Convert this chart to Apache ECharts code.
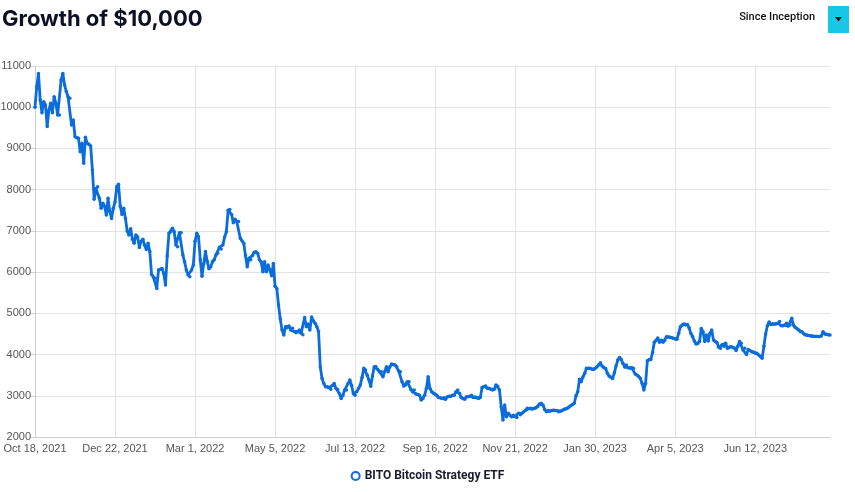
<!DOCTYPE html>
<html>
<head>
<meta charset="utf-8">
<script src="https://cdn.jsdelivr.net/npm/echarts@6/dist/echarts.min.js"></script>
<style>
  html, body { margin: 0; padding: 0; background: #fff; }
  #chart { width: 855px; height: 492px; }
</style>
</head>
<body>
<div id="chart"></div>
<script>
// x axis labels, one every 46 trading days
var tickLabels = ['Oct 18, 2021', 'Dec 22, 2021', 'Mar 1, 2022', 'May 5, 2022', 'Jul 13, 2022',
  'Sep 16, 2022', 'Nov 21, 2022', 'Jan 30, 2023', 'Apr 5, 2023', 'Jun 12, 2023'];
var labelStep = 46;

// growth of $10,000, daily (one row per label period)
var seg0 = [10000, 10500, 10820, 10175, 9867, 10135, 10055, 9530, 9930, 10095, 9867, 10255, 10095, 9810, 9810, 10660,
  10820, 10540, 10380, 10255, 10215, 9570, 9690, 9285, 9260, 9245, 8920, 9125, 8640, 9270, 9125, 9100, 9060, 8475,
  7770, 8030, 8070, 7790, 7550, 7670, 7600, 7385, 7790, 7465, 7300, 7550];
var seg1 = [7700, 8070, 8130, 7600, 7400, 7550, 7300, 7000, 6900, 7050, 6800, 6700, 6900, 6850, 6600, 6750, 6800,
  6650, 6550, 6700, 6500, 5950, 5880, 5850, 5605, 6050, 6070, 6090, 5970, 5685, 6390, 6940, 6980, 7065, 6980, 6660,
  6615, 6955, 6955, 6415, 6250, 6050, 5930, 5890, 6050, 6170];
var seg2 = [6750, 6940, 6860, 6300, 5900, 6200, 6500, 6260, 6080, 6130, 6250, 6300, 6415, 6455, 6600, 6560, 6660,
  6850, 6980, 7500, 7520, 7400, 7200, 7280, 7225, 7225, 6820, 6760, 6700, 6400, 6130, 6335, 6300, 6400, 6480, 6495,
  6460, 6300, 6250, 6010, 6250, 6010, 6170, 6050, 5910, 6210];
var seg3 = [5660, 5605, 5200, 4860, 4600, 4475, 4675, 4650, 4690, 4595, 4640, 4560, 4530, 4560, 4595, 4520, 4480,
  4900, 4675, 4740, 4595, 4910, 4820, 4760, 4675, 4560, 3700, 3420, 3300, 3220, 3220, 3200, 3160, 3250, 3300, 3180,
  3150, 3050, 2935, 3015, 3140, 3140, 3300, 3380, 3250, 3050];
var seg4 = [3015, 3100, 3180, 3260, 3445, 3665, 3625, 3500, 3380, 3230, 3480, 3705, 3705, 3640, 3585, 3585, 3460,
  3585, 3705, 3585, 3705, 3770, 3760, 3745, 3705, 3610, 3585, 3340, 3235, 3260, 3340, 3340, 3160, 3100, 3140, 3045,
  3030, 3015, 2895, 2935, 3015, 3180, 3460, 3180, 3100, 3060];
var seg5 = [3040, 3010, 2960, 2950, 2935, 2950, 2915, 2975, 2990, 2990, 3015, 3015, 3100, 3140, 3060, 2960, 2935,
  2915, 2975, 2975, 2990, 3015, 2960, 2970, 2950, 2935, 2960, 3200, 3220, 3235, 3180, 3180, 3160, 3140, 3160, 3260,
  3230, 3140, 2730, 2410, 2775, 2490, 2575, 2530, 2490, 2530];
var seg6 = [2500, 2475, 2575, 2540, 2575, 2615, 2650, 2695, 2690, 2695, 2680, 2700, 2710, 2740, 2800, 2820, 2775,
  2670, 2615, 2640, 2630, 2640, 2650, 2640, 2640, 2615, 2625, 2640, 2670, 2680, 2700, 2730, 2760, 2790, 2820, 3000,
  3100, 3400, 3340, 3460, 3545, 3665, 3665, 3665, 3650, 3640];
var seg7 = [3660, 3700, 3745, 3800, 3720, 3680, 3660, 3545, 3480, 3450, 3420, 3550, 3720, 3865, 3930, 3880, 3780,
  3700, 3745, 3680, 3665, 3680, 3665, 3530, 3505, 3470, 3420, 3300, 3140, 3300, 3850, 3880, 3880, 4050, 4300, 4340,
  4400, 4300, 4350, 4300, 4340, 4430, 4425, 4420, 4410, 4395];
var seg8 = [4380, 4370, 4515, 4675, 4720, 4740, 4715, 4730, 4650, 4515, 4435, 4330, 4255, 4270, 4315, 4635, 4555,
  4315, 4475, 4330, 4515, 4595, 4355, 4315, 4290, 4180, 4150, 4235, 4200, 4275, 4150, 4180, 4190, 4180, 4160, 4100,
  4200, 4315, 4275, 4110, 4150, 4000, 4120, 4100, 4070, 4060];
var seg9 = [4040, 4030, 3990, 3960, 3910, 4200, 4500, 4700, 4790, 4730, 4750, 4740, 4740, 4760, 4800, 4700, 4700,
  4715, 4760, 4690, 4720, 4880, 4715, 4660, 4630, 4595, 4555, 4550, 4500, 4475, 4470, 4460, 4450, 4450, 4440, 4445,
  4435, 4440, 4450, 4555, 4500, 4490, 4480, 4475];

var values = [].concat(seg0, seg1, seg2, seg3, seg4, seg5, seg6, seg7, seg8, seg9);
var categories = values.map(function (v, i) {
  return i % labelStep === 0 ? tickLabels[i / labelStep] : '';
});

var blue = '#0a6ddb';
var chart = echarts.init(document.getElementById('chart'), null, { renderer: 'canvas' });
chart.setOption({
  animation: false,
  backgroundColor: '#fff',
  title: {
    text: 'Growth of $10,000',
    left: -3,
    top: 3,
    textStyle: { fontFamily: 'Inter', fontWeight: 'bold', fontSize: 22, color: '#0c1024' }
  },
  grid: { left: 35, right: 25, top: 66, bottom: 55, containLabel: false, outerBoundsMode: 'none' },
  legend: {
    bottom: 5,
    left: 'center',
    icon: 'circle',
    itemWidth: 8,
    itemHeight: 8,
    itemGap: 6,
    itemStyle: { color: '#fff', borderColor: blue, borderWidth: 2 },
    textStyle: { fontFamily: 'Roboto', fontWeight: 'bold', fontSize: 12, color: '#1a1d2e' },
    data: ['BITO Bitcoin Strategy ETF']
  },
  xAxis: {
    type: 'category',
    boundaryGap: false,
    data: categories,
    axisLine: { lineStyle: { color: '#cfcfcf' } },
    axisTick: { show: false },
    axisLabel: { interval: labelStep - 1, color: '#555', fontSize: 11, fontFamily: 'Liberation Sans', margin: 6 },
    splitLine: { show: true, interval: labelStep - 1, lineStyle: { color: '#e3e3e3' } }
  },
  yAxis: {
    type: 'value',
    min: 2000,
    max: 11000,
    interval: 1000,
    axisLine: { show: true, lineStyle: { color: '#cfcfcf' } },
    axisTick: { show: true, length: 5, lineStyle: { color: '#cfcfcf' } },
    axisLabel: {
      color: '#555', fontSize: 11, fontFamily: 'Liberation Sans', margin: 4,
      formatter: function (v) { return String(v); }
    },
    splitLine: { lineStyle: { color: '#e3e3e3' } }
  },
  series: [{
    name: 'BITO Bitcoin Strategy ETF',
    type: 'line',
    data: values,
    symbol: 'circle',
    symbolSize: 3.5,
    showAllSymbol: true,
    itemStyle: { color: blue },
    lineStyle: { color: blue, width: 2.8 }
  }],
  graphic: [
    {
      type: 'text',
      right: 40,
      top: 12,
      style: { text: 'Since Inception', font: '500 11px Roboto', fill: '#111' }
    },
    {
      type: 'rect',
      right: 6,
      top: 6,
      shape: { width: 21, height: 27 },
      style: { fill: '#17c8e6' }
    },
    {
      type: 'polygon',
      right: 13,
      top: 17,
      shape: { points: [[0, 0], [7, 0], [3.5, 4.5]] },
      style: { fill: '#0c1024' }
    }
  ]
});
</script>
</body>
</html>
